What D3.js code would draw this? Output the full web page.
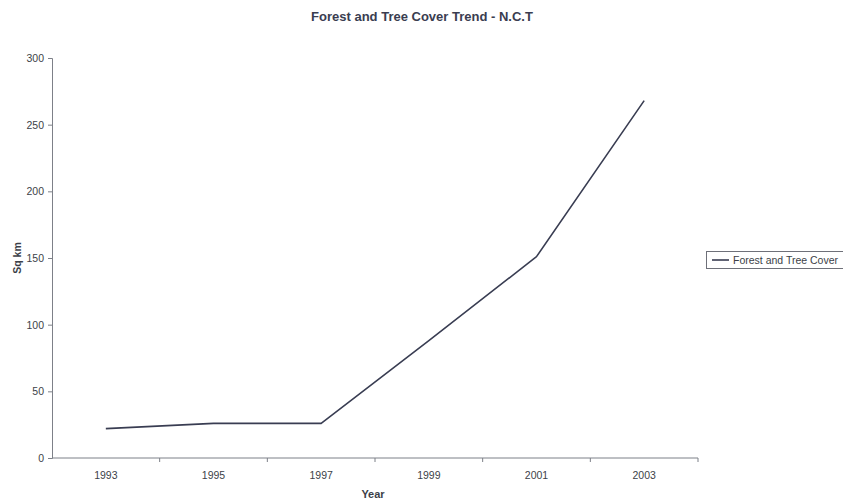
<!DOCTYPE html>
<html>
<head>
<meta charset="utf-8">
<script src="https://cdn.jsdelivr.net/npm/d3@7"></script>
<style>
  body { margin: 0; background: #fff; }
  svg { display: block; font-family: "Liberation Sans", Arial, sans-serif; }
</style>
</head>
<body>
<svg id="chart" width="843" height="502"></svg>
<script>
// Forest and tree cover of the National Capital Territory, by assessment year
const years = ["1993", "1995", "1997", "1999", "2001", "2003"];
const coverSqKm = [22, 26, 26, 88, 151, 268];
const yTicks = [0, 50, 100, 150, 200, 250, 300];
const seriesName = "Forest and Tree Cover";

const svg = d3.select("#chart");
const plotLeft = 52, plotRight = 698;

const x = d3.scaleBand().domain(years).range([plotLeft, plotRight]).padding(0);
const y = d3.scaleLinear().domain([0, 300]).range([458, 58]);

const axisColor = "#7d8088";
const textColor = "#3c3f48";

// Y axis
const yAxis = svg.append("g")
  .attr("transform", `translate(${plotLeft},0)`)
  .call(d3.axisLeft(y).tickValues(yTicks).tickSize(4).tickPadding(4));
yAxis.select(".domain").attr("stroke", axisColor);
yAxis.selectAll(".tick line").attr("stroke", axisColor);
yAxis.selectAll(".tick text").attr("fill", textColor).attr("font-size", "10.5px")
  .attr("font-family", "'Liberation Sans', Arial, sans-serif");

// X axis: ticks sit on band boundaries, labels at band centres
const xAxisG = svg.append("g").attr("transform", `translate(0,${y(0)})`);
xAxisG.append("line")
  .attr("x1", plotLeft).attr("x2", plotRight)
  .attr("stroke", axisColor);
const bounds = years.map(d => x(d)).concat([x(years[years.length - 1]) + x.bandwidth()]);
xAxisG.selectAll("line.tk").data(bounds.slice(1)).join("line")
  .attr("class", "tk")
  .attr("x1", d => d).attr("x2", d => d)
  .attr("y1", 0).attr("y2", 4)
  .attr("stroke", axisColor);
xAxisG.selectAll("text").data(years).join("text")
  .attr("x", d => x(d) + x.bandwidth() / 2)
  .attr("y", 21)
  .attr("text-anchor", "middle")
  .attr("fill", textColor)
  .attr("font-size", "10.5px")
  .text(d => d);

// Series line
const line = d3.line()
  .x((d, i) => x(years[i]) + x.bandwidth() / 2)
  .y(d => y(d));
svg.append("path")
  .datum(coverSqKm)
  .attr("d", line)
  .attr("fill", "none")
  .attr("stroke", "#393d52")
  .attr("stroke-width", 1.6)
  .attr("stroke-linejoin", "round");

// Title
svg.append("text")
  .attr("x", 422).attr("y", 21)
  .attr("text-anchor", "middle")
  .attr("font-weight", "bold")
  .attr("font-size", "13px")
  .attr("fill", "#3a3d50")
  .text("Forest and Tree Cover Trend - N.C.T");

// Axis titles
svg.append("text")
  .attr("x", 373).attr("y", 498)
  .attr("text-anchor", "middle")
  .attr("font-weight", "bold")
  .attr("font-size", "11px")
  .attr("fill", textColor)
  .text("Year");

svg.append("text")
  .attr("transform", "translate(21,258) rotate(-90)")
  .attr("text-anchor", "middle")
  .attr("font-weight", "bold")
  .attr("font-size", "10.5px")
  .attr("fill", textColor)
  .text("Sq km");

// Legend
const lg = svg.append("g").attr("transform", "translate(706,251)");
lg.append("rect")
  .attr("x", 0.5).attr("y", 0.5)
  .attr("width", 160).attr("height", 17)
  .attr("fill", "#fff")
  .attr("stroke", "#6e7079");
lg.append("line")
  .attr("x1", 6).attr("x2", 23)
  .attr("y1", 9).attr("y2", 9)
  .attr("stroke", "#393d52").attr("stroke-width", 1.6);
lg.append("text")
  .attr("x", 27).attr("y", 13)
  .attr("font-size", "10.5px")
  .attr("fill", textColor)
  .text(seriesName);
</script>
</body>
</html>
